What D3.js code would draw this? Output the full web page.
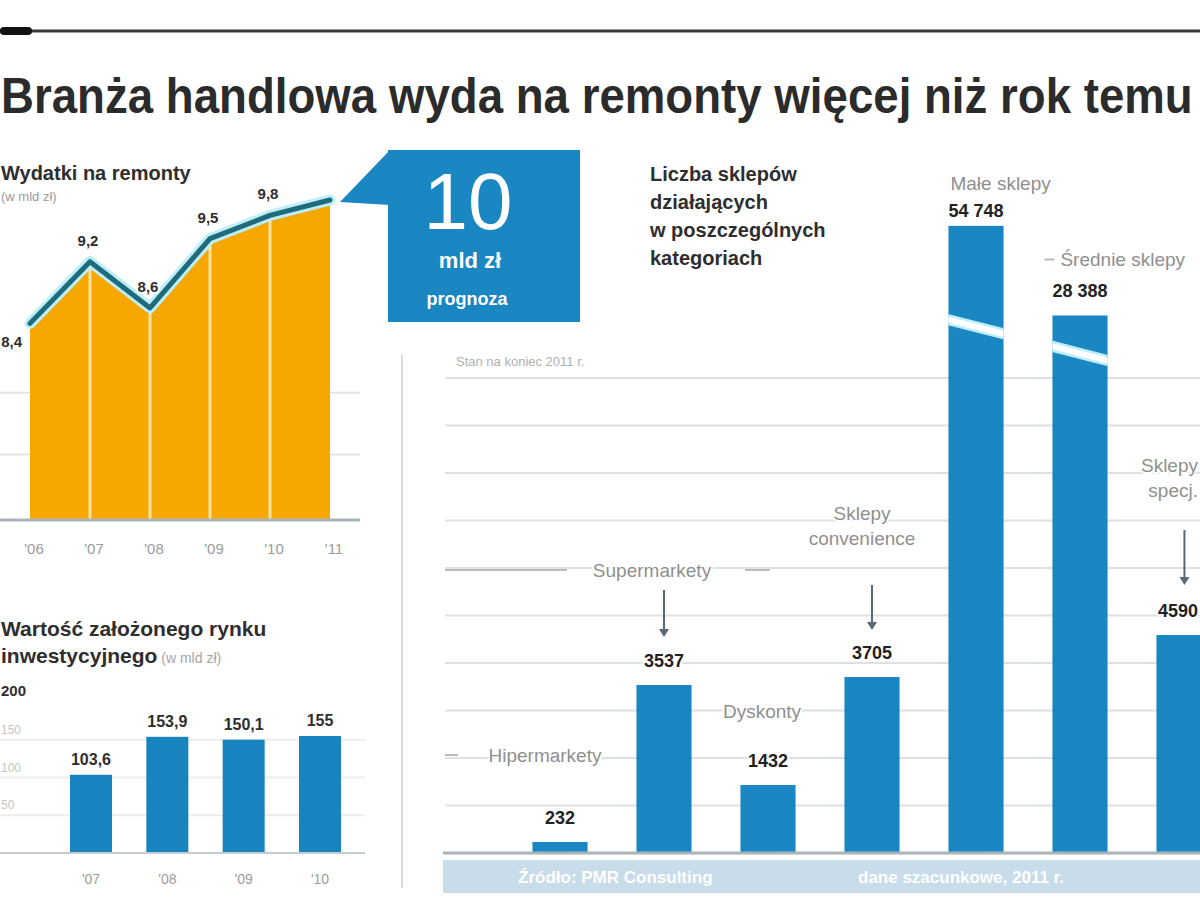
<!DOCTYPE html>
<html>
<head>
<meta charset="utf-8">
<script src="https://cdn.jsdelivr.net/npm/d3@7"></script>
<style>
  body { margin: 0; background: #fff; }
  svg { display: block; font-family: "Liberation Sans", Arial, sans-serif; }
</style>
</head>
<body>
<svg id="chart" width="1200" height="923"></svg>
<script>
const spendYears = ["'06", "'07", "'08", "'09", "'10", "'11"];
const spendValues = [8.4, 9.2, 8.6, 9.5, 9.8, 10];
const spendGrid = [6.7, 7.5];

const marketYears = ["'07", "'08", "'09", "'10"];
const marketValues = [103.6, 153.9, 150.1, 155];
const marketTicks = [50, 100, 150, 200];

const storeCats = ["Hipermarkety", "Supermarkety", "Dyskonty", "Sklepy convenience",
  "Małe sklepy", "Średnie sklepy", "Sklepy specjalistyczne"];
const storeLabels = [["Hipermarkety"], ["Supermarkety"], ["Dyskonty"], ["Sklepy", "convenience"],
  ["Małe sklepy"], ["Średnie sklepy"], ["Sklepy", "specj."]];
const storeValues = [232, 3537, 1432, 3705, 54748, 28388, 4590];
const storeGrid = [0, 1000, 2000, 3000, 4000, 5000, 6000, 7000, 8000, 9000, 10000];
const storeBreak = [27600, 14700];

const BLUE = '#1a86c2';
const DARK = '#2e2e2e';
const GRAY = '#8f8f8f';

const svg = d3.select('#chart');
const fmt = v => String(v).replace('.', ',');
const fmtThousands = v => v >= 10000 ? d3.format(',')(v).replace(/,/g, ' ') : String(v);

function halo(sel) {
  return sel.attr('stroke', '#fff').attr('stroke-width', 4)
    .attr('paint-order', 'stroke').attr('stroke-linejoin', 'round');
}

// top rule + headline
svg.append('line').attr('x1', 0).attr('x2', 1200).attr('y1', 31).attr('y2', 31)
  .attr('stroke', '#3a3a3a').attr('stroke-width', 3);
svg.append('rect').attr('x', 0).attr('y', 27).attr('width', 32).attr('height', 8)
  .attr('rx', 4).attr('fill', '#111');

// headline squeezed horizontally so it fills the width, like the condensed original
const title = svg.append('text')
  .attr('x', 0).attr('y', 0)
  .attr('font-weight', 700).attr('font-size', 50).attr('fill', '#2b2b2b')
  .text('Branża handlowa wyda na remonty więcej niż rok temu');
const titleLen = title.node().getComputedTextLength();
title.attr('transform', `translate(1,113) scale(${1192 / titleLen},1)`);

// --- spending area chart ---
svg.append('text').attr('x', 1).attr('y', 180)
  .attr('font-weight', 700).attr('font-size', 20).attr('fill', DARK)
  .text('Wydatki na remonty');
svg.append('text').attr('x', 1).attr('y', 201)
  .attr('font-size', 13).attr('fill', '#9a9a9a').text('(w mld zł)');

const xA = d3.scalePoint().domain(spendYears).range([30, 330]);
const yA = d3.scaleLinear().domain([5.85, 10]).range([520, 200]);

svg.selectAll('.a-grid').data(spendGrid).enter().append('line')
  .attr('x1', 0).attr('x2', 360)
  .attr('y1', d => yA(d)).attr('y2', d => yA(d))
  .attr('stroke', '#e4e4e4').attr('stroke-width', 2);

const area = d3.area()
  .x((d, i) => xA(spendYears[i]))
  .y0(yA(5.85))
  .y1(d => yA(d));
svg.append('path').datum(spendValues).attr('d', area).attr('fill', '#f6a700');

svg.selectAll('.a-sep').data(spendValues.slice(1, -1)).enter().append('line')
  .attr('x1', (d, i) => xA(spendYears[i + 1])).attr('x2', (d, i) => xA(spendYears[i + 1]))
  .attr('y1', d => yA(d)).attr('y2', yA(5.85))
  .attr('stroke', '#ffe2a0').attr('stroke-width', 3);

const line = d3.line().x((d, i) => xA(spendYears[i])).y(d => yA(d));
svg.append('path').datum(spendValues).attr('d', line)
  .attr('fill', 'none').attr('stroke', '#bdeefa').attr('stroke-width', 11)
  .attr('stroke-linejoin', 'round').attr('stroke-linecap', 'round');
svg.append('path').datum(spendValues).attr('d', line)
  .attr('fill', 'none').attr('stroke', '#1f6b7c').attr('stroke-width', 5)
  .attr('stroke-linejoin', 'round').attr('stroke-linecap', 'round');

svg.append('line').attr('x1', 0).attr('x2', 360)
  .attr('y1', yA(5.85)).attr('y2', yA(5.85))
  .attr('stroke', '#aab5b9').attr('stroke-width', 3);

svg.selectAll('.a-x').data(spendYears).enter().append('text')
  .attr('x', d => xA(d) + 4).attr('y', 554)
  .attr('text-anchor', 'middle').attr('font-size', 15).attr('fill', '#9c9c9c')
  .text(d => d);

svg.selectAll('.a-val').data(spendValues.slice(0, -1)).enter().append('text')
  .attr('x', (d, i) => i === 0 ? xA(spendYears[i]) - 8 : xA(spendYears[i]) - 2)
  .attr('y', (d, i) => i === 0 ? yA(d) + 24 : yA(d) - 16)
  .attr('text-anchor', (d, i) => i === 0 ? 'end' : 'middle')
  .attr('font-weight', 700).attr('font-size', 15).attr('fill', DARK)
  .call(halo)
  .text(d => fmt(d));

// forecast box with pointer
const lastX = xA(spendYears[spendYears.length - 1]);
const lastY = yA(spendValues[spendValues.length - 1]);
svg.append('path')
  .attr('d', `M390,150 L${lastX + 10},${lastY + 2} L390,205 Z`)
  .attr('fill', BLUE);
svg.append('rect').attr('x', 388).attr('y', 150).attr('width', 192).attr('height', 172)
  .attr('fill', BLUE);
svg.append('text').attr('x', 468).attr('y', 229).attr('text-anchor', 'middle')
  .attr('font-size', 80).attr('fill', '#fff').text('10');
svg.append('text').attr('x', 470).attr('y', 268).attr('text-anchor', 'middle')
  .attr('font-weight', 700).attr('font-size', 22).attr('fill', '#fff').text('mld zł');
svg.append('text').attr('x', 467).attr('y', 305).attr('text-anchor', 'middle')
  .attr('font-weight', 700).attr('font-size', 18).attr('fill', '#fff').text('prognoza');

// --- market value bar chart ---
svg.append('text').attr('x', 1).attr('y', 636)
  .attr('font-weight', 700).attr('font-size', 21).attr('fill', DARK)
  .text('Wartość założonego rynku');
const t2 = svg.append('text').attr('x', 1).attr('y', 663)
  .attr('font-weight', 700).attr('font-size', 21).attr('fill', DARK);
t2.append('tspan').text('inwestycyjnego');
t2.append('tspan').attr('font-weight', 400).attr('font-size', 14).attr('fill', '#a5a5a5')
  .text(' (w mld zł)');

const xM = d3.scalePoint().domain(marketYears).range([91, 320]);
const yM = d3.scaleLinear().domain([0, 200]).range([853, 702]);

svg.selectAll('.m-grid').data(marketTicks.slice(0, -1)).enter().append('line')
  .attr('x1', 0).attr('x2', 365)
  .attr('y1', d => yM(d)).attr('y2', d => yM(d))
  .attr('stroke', '#ececec').attr('stroke-width', 2);
svg.selectAll('.m-tick').data(marketTicks).enter().append('text')
  .attr('x', 1).attr('y', d => yM(d) - 6)
  .attr('font-size', d => d === 200 ? 15 : 12)
  .attr('font-weight', d => d === 200 ? 700 : 400)
  .attr('fill', d => d === 200 ? DARK : '#c4c4c4')
  .text(d => d);

svg.selectAll('.m-bar').data(marketValues).enter().append('rect')
  .attr('x', (d, i) => xM(marketYears[i]) - 21).attr('width', 42)
  .attr('y', d => yM(d)).attr('height', d => yM(0) - yM(d))
  .attr('fill', '#1784c0');
svg.append('line').attr('x1', 0).attr('x2', 365).attr('y1', yM(0)).attr('y2', yM(0))
  .attr('stroke', '#c6cdd0').attr('stroke-width', 2);
svg.selectAll('.m-val').data(marketValues).enter().append('text')
  .attr('x', (d, i) => xM(marketYears[i])).attr('y', d => yM(d) - 10)
  .attr('text-anchor', 'middle').attr('font-weight', 700).attr('font-size', 16)
  .attr('fill', DARK).call(halo)
  .text(d => fmt(d));
svg.selectAll('.m-x').data(marketYears).enter().append('text')
  .attr('x', d => xM(d)).attr('y', 884)
  .attr('text-anchor', 'middle').attr('font-size', 14).attr('fill', '#9c9c9c')
  .text(d => d);

// divider
svg.append('line').attr('x1', 402).attr('x2', 402).attr('y1', 355).attr('y2', 888)
  .attr('stroke', '#d5dadd').attr('stroke-width', 2);

// --- store count chart ---
['Liczba sklepów', 'działających', 'w poszczególnych', 'kategoriach'].forEach((t, i) => {
  svg.append('text').attr('x', 650).attr('y', 181 + i * 28)
    .attr('font-weight', 700).attr('font-size', 20).attr('fill', DARK).text(t);
});
svg.append('text').attr('x', 456).attr('y', 366)
  .attr('font-size', 13).attr('fill', '#b0b0b0').text('Stan na koniec 2011 r.');

const xR = d3.scaleBand().domain(storeCats).range([508, 1236])
  .paddingInner(0.47).paddingOuter(0.235);
const yR = d3.scaleLinear().domain([0, 10000, 60000]).range([853, 378, 208]);
const bw = xR.bandwidth();
const cx = c => xR(c) + bw / 2;

svg.selectAll('.r-grid').data(storeGrid.slice(1)).enter().append('line')
  .attr('x1', 445).attr('x2', 1200)
  .attr('y1', d => yR(d)).attr('y2', d => yR(d))
  .attr('stroke', '#dde1e3').attr('stroke-width', 2);

svg.selectAll('.r-bar').data(storeValues).enter().append('rect')
  .attr('x', (d, i) => xR(storeCats[i])).attr('width', bw)
  .attr('y', d => yR(d)).attr('height', d => yR(0) - yR(d))
  .attr('fill', BLUE);

// scale break across the two tall bars, clipped to the bars
const clip = svg.append('defs').append('clipPath').attr('id', 'breakClip');
[4, 5].forEach(i => {
  clip.append('rect').attr('x', xR(storeCats[i])).attr('width', bw)
    .attr('y', yR(storeValues[i])).attr('height', yR(0) - yR(storeValues[i]));
});
const bx1 = xR(storeCats[4]) - 6, bx2 = xR(storeCats[5]) + bw + 6;
const by1 = yR(storeBreak[0]), by2 = yR(storeBreak[1]);
const gBreak = svg.append('g').attr('clip-path', 'url(#breakClip)');
gBreak.append('line').attr('x1', bx1).attr('y1', by1).attr('x2', bx2).attr('y2', by2)
  .attr('stroke', '#bfeefa').attr('stroke-width', 11);
gBreak.append('line').attr('x1', bx1).attr('y1', by1).attr('x2', bx2).attr('y2', by2)
  .attr('stroke', '#ffffff').attr('stroke-width', 6);

svg.append('line').attr('x1', 443).attr('x2', 1200).attr('y1', yR(0)).attr('y2', yR(0))
  .attr('stroke', '#a9b3b8').attr('stroke-width', 3);
svg.append('rect').attr('x', 443).attr('y', 860).attr('width', 757).attr('height', 33)
  .attr('fill', '#c8dce9');
svg.append('text').attr('x', 518).attr('y', 883)
  .attr('font-weight', 700).attr('font-size', 17).attr('fill', '#fff')
  .text('Źródło: PMR Consulting');
svg.append('text').attr('x', 858).attr('y', 883)
  .attr('font-weight', 700).attr('font-size', 17).attr('fill', '#fff')
  .text('dane szacunkowe, 2011 r.');

// value labels
svg.selectAll('.r-val').data(storeValues).enter().append('text')
  .attr('x', (d, i) => i === 4 || i === 5 ? xR(storeCats[i]) : i === 6 ? 1198 : cx(storeCats[i]))
  .attr('y', (d, i) => i === 4 ? yR(d) - 9 : yR(d) - 18)
  .attr('text-anchor', (d, i) => i === 4 || i === 5 ? 'start' : i === 6 ? 'end' : 'middle')
  .attr('font-weight', 700).attr('font-size', 18).attr('fill', '#222')
  .call(halo)
  .text(d => fmtThousands(d));

// category annotations (layout offsets relative to each bar)
const notes = [
  { dx: -15, dy: -80, anchor: 'middle', lead: [445, 458] },
  { dx: -12, dy: -108, anchor: 'middle', lead: [445, 567], leadR: [745, 770], arrow: [-95, -48] },
  { dx: -6, dy: -67, anchor: 'middle' },
  { dx: -10, dy: -132, anchor: 'middle', arrow: [-92, -47] },
  { left: true, dx: 2, dy: -36 },
  { left: true, dx: 8, dy: -49 },
  { right: true, dy: -138, arrow: [-105, -50], arrowDx: 28 }
];

storeValues.forEach((v, i) => {
  const n = notes[i];
  const c = storeCats[i];
  const top = yR(v);
  const lines = storeLabels[i];
  const tx = n.right ? 1198 : n.left ? xR(c) + n.dx : cx(c) + n.dx;
  lines.forEach((t, k) => {
    svg.append('text')
      .attr('x', tx).attr('y', top + n.dy + k * 25 - (lines.length - 1) * 25)
      .attr('text-anchor', n.right ? 'end' : n.left ? 'start' : n.anchor)
      .attr('font-size', 19).attr('fill', GRAY)
      .call(halo)
      .text(t);
  });
  const ly = top + n.dy - 7;
  if (n.lead) {
    svg.append('line').attr('x1', n.lead[0]).attr('x2', n.lead[1]).attr('y1', ly).attr('y2', ly)
      .attr('stroke', '#b9bdc0').attr('stroke-width', 2);
  }
  if (n.leadR) {
    svg.append('line').attr('x1', n.leadR[0]).attr('x2', n.leadR[1]).attr('y1', ly).attr('y2', ly)
      .attr('stroke', '#b9bdc0').attr('stroke-width', 2);
  }
  if (i === 5) {
    svg.append('line').attr('x1', xR(c) - 8).attr('x2', xR(c) + 2).attr('y1', ly).attr('y2', ly)
      .attr('stroke', '#b9bdc0').attr('stroke-width', 2);
  }
  if (n.arrow) {
    const ax = n.arrowDx !== undefined ? xR(c) + n.arrowDx : cx(c);
    svg.append('line').attr('x1', ax).attr('x2', ax)
      .attr('y1', top + n.arrow[0]).attr('y2', top + n.arrow[1] - 6)
      .attr('stroke', '#5a6a72').attr('stroke-width', 2);
    svg.append('path')
      .attr('d', `M${ax - 5},${top + n.arrow[1] - 8} L${ax + 5},${top + n.arrow[1] - 8} L${ax},${top + n.arrow[1]} Z`)
      .attr('fill', '#5a6a72');
  }
});
</script>
</body>
</html>
